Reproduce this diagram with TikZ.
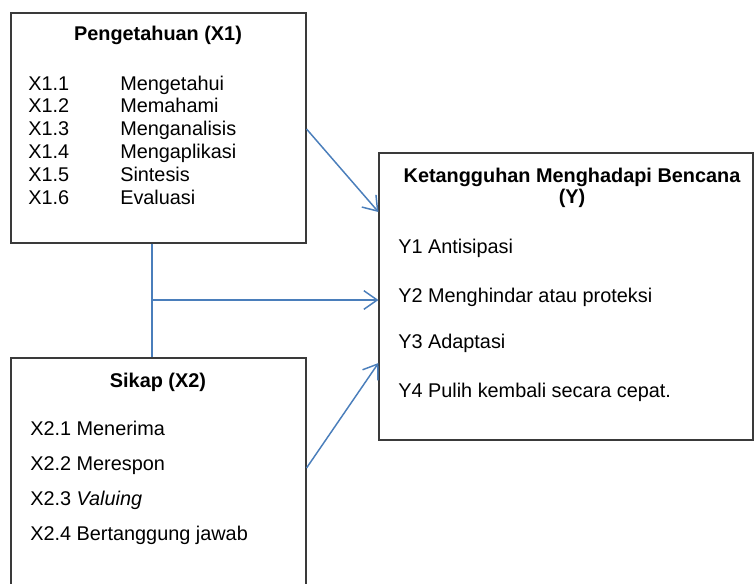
\documentclass[tikz,border=0pt]{standalone}
\usepackage{fontspec}
\setmainfont{Liberation Sans}
\usepackage{tikz}
\usetikzlibrary{arrows.meta,fit}
\usepackage{xcolor}
\definecolor{LinkBlue}{HTML}{4a7ebb}
\definecolor{BoxGray}{HTML}{3a3a3a}
\tikzset{
    box/.style={draw=BoxGray,line width=0.8pt,inner sep=0pt},
    link/.style={draw=LinkBlue,line width=1.1pt},
    arrowlink/.style={link,-{Straight Barb[length=10pt,width=14pt,line width=1.1pt]}},
    item/.style={anchor=base west,inner sep=0pt,font=\fontsize{14.9}{17}\selectfont},
    title/.style={anchor=base,inner sep=0pt,font=\fontsize{14.9}{17}\selectfont\bfseries}
}

\begin{document}
\begin{tikzpicture}[x=0.75pt,y=-0.75pt]
    \useasboundingbox (0,0) rectangle (754,583);
    \clip (0,0) rectangle (754,583);
    \node[box,fit={(11,13) (306,243)}] (x1) {};
    \node[box,fit={(11,358) (306,620)}] (x2) {};
    \node[box,fit={(379,153) (753,440)}] (y) {};
    \node[title] (x1title) at (158,40) {Pengetahuan (X1)};
    \foreach \i/\name in {1/Mengetahui,2/Memahami,3/Menganalisis,4/Mengaplikasi,5/Sintesis,6/Evaluasi} {
     \node[item] (x1code\i) at (28,90+22.8*\i-22.8) {X1.\i};
     \node[item] (x1name\i) at (120,90+22.8*\i-22.8) {\name};
    }
    \node[title] (x2title) at (158,387) {Sikap (X2)};
    \foreach \i/\name in {1/Menerima,2/Merespon,3/\textit{Valuing},4/Bertanggung jawab} {
     \node[item] (x2item\i) at (30,435+35*\i-35) {X2.\i\ \name};
    }
    \node[title] (ytitle1) at (572,182) {Ketangguhan Menghadapi Bencana};
    \node[title] (ytitle2) at (572,203) {(Y)};
    \foreach \i/\y/\name in {1/253/Antisipasi,2/302/Menghindar atau proteksi,3/348/Adaptasi,4/397/Pulih kembali secara cepat.} {
     \node[item] (yitem\i) at (398,\y) {Y\i\ \name};
    }
    \coordinate (join) at (152,300);
    \draw[link] (x1.south -| join) -- (x2.north -| join);
    \draw[arrowlink] (join) -- (y.west |- join);
    \draw[arrowlink] (x1.east |- 0,129) -- (y.west |- 0,212);
    \draw[arrowlink] (x2.east |- 0,468) -- (y.west |- 0,363);
\end{tikzpicture}
\end{document}
